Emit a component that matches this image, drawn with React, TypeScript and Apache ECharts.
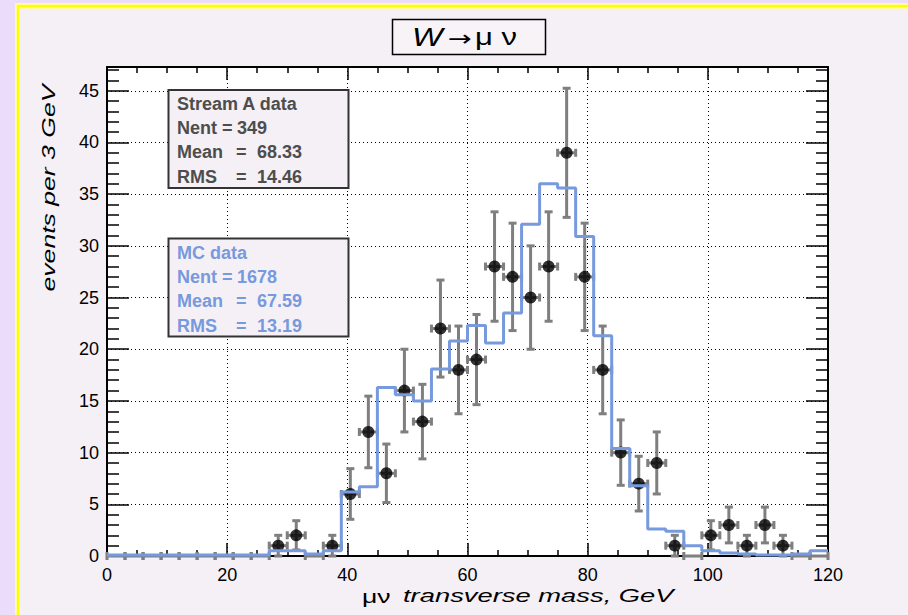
import React, { useEffect, useRef } from 'react';
import * as echarts from 'echarts';

// ---- data (3 GeV bins from 0 to 120) ----
const binWidth = 3;
const xRange = [0, 120];
const yRange = [0, 47.3];
const dataCounts = [
  0, 0, 0, 0, 0, 0, 0, 0, 0, 1,
  2, 0, 1, 6, 12, 8, 16, 13, 22, 18,
  19, 28, 27, 25, 28, 39, 27, 18, 10, 7,
  9, 1, 0, 2, 3, 1, 3, 1, 0, 0,
];
const mcValues = [
  0.1, 0.1, 0.1, 0.1, 0.1, 0.1, 0.1, 0.1, 0.1, 0.5,
  0.5, 0.2, 0.5, 6.2, 6.7, 16.3, 15.6, 15.0, 18.1, 20.8,
  22.3, 20.6, 23.5, 32.1, 36.0, 35.6, 30.9, 21.3, 10.4, 6.8,
  2.6, 2.4, 1.0, 0.5, 0.3, 0.2, 0.1, 0.1, 0.2, 0.5,
];
const dataStats = ['Stream A data', '349', '68.33', '14.46'];
const mcStats = ['MC data', '1678', '67.59', '13.19'];
const statLabels = ['Nent', 'Mean', 'RMS'];
const titleParts = ['W', '\u2192', '\u03bc \u03bd'];
const xTitleParts = ['\u03bc\u03bd', 'transverse mass, GeV'];
const yTitle = 'events per 3 GeV';

const FONT = "'Liberation Sans', Arial, Helvetica, sans-serif";
const DATA_GREY = '#7f7f7f';
const MC_BLUE = '#7799dd';

function statsBox(top: number, values: string[], color: string) {
  const els: any[] = [];
  els.push({
    type: 'rect', z: 100,
    shape: { x: 168.5, y: top, width: 180, height: 98 },
    style: { fill: '#f5f0f5', stroke: '#333', lineWidth: 2 },
  });
  const rows = [14, 38, 62, 87];
  const txt = (x: number, y: number, t: string) => ({
    type: 'text', z: 101, x, y,
    style: { text: t, fill: color, font: `bold 18px ${FONT}`, align: 'left', verticalAlign: 'middle' },
  });
  els.push(txt(177, top + rows[0], values[0]));
  const eqX = [222, 236, 236];
  const valX = [237, 257, 257];
  for (let i = 0; i < 3; i++) {
    els.push(txt(177, top + rows[i + 1], statLabels[i]));
    els.push(txt(eqX[i], top + rows[i + 1], '='));
    els.push(txt(valX[i], top + rows[i + 1], values[i + 1]));
  }
  return els;
}

export default function App() {
  const ref = useRef<HTMLDivElement>(null);
  useEffect(() => {
    document.body.style.margin = '0';
    const chart = echarts.init(ref.current!, null, { renderer: 'svg' });

    const errData = dataCounts.map((n, i) => [i * binWidth + binWidth / 2, n, Math.sqrt(n)]);
    const markerData = dataCounts
      .map((n, i) => [i * binWidth + binWidth / 2, n])
      .filter((d) => d[1] > 0);
    const mcData = mcValues.map((v, i) => [i * binWidth, v]);
    mcData.push([xRange[1], mcValues[mcValues.length - 1]]);

    const tickStyle = { color: '#000', width: 1.5 };
    const axisLine = { show: true, onZero: false, lineStyle: { color: '#000', width: 2 } };
    const dotted = { show: true, lineStyle: { color: '#000', width: 1, type: [1, 3] } };
    const xBase = {
      type: 'value', min: xRange[0], max: xRange[1], interval: 20,
      axisLine,
      axisTick: { show: true, inside: true, length: 13, lineStyle: tickStyle },
      minorTick: { show: true, splitNumber: 4, length: 6, lineStyle: tickStyle },
    };
    const yBase = {
      type: 'value', min: yRange[0], max: yRange[1], interval: 5,
      axisLine,
      axisTick: { show: true, inside: true, length: 22, lineStyle: tickStyle },
      minorTick: { show: true, splitNumber: 5, length: 12, lineStyle: tickStyle },
    };

    const graphicEls: any[] = [
      {
        type: 'rect', z: 100,
        shape: { x: 392.5, y: 19.5, width: 153, height: 35 },
        style: { fill: '#f7f3f7', stroke: '#000', lineWidth: 1.5 },
      },
      {
        type: 'text', z: 101, x: 412, y: 37, scaleX: 1.3,
        style: { text: titleParts[0], fill: '#000', font: `italic 25px ${FONT}`, align: 'left', verticalAlign: 'middle' },
      },
      {
        type: 'text', z: 101, x: 448, y: 38, scaleX: 1.3,
        style: { text: titleParts[1], fill: '#000', font: `22px 'DejaVu Sans', sans-serif`, align: 'left', verticalAlign: 'middle' },
      },
      {
        type: 'text', z: 101, x: 475, y: 37, scaleX: 1.35,
        style: { text: titleParts[2], fill: '#000', font: `23px ${FONT}`, align: 'left', verticalAlign: 'middle' },
      },
      {
        type: 'text', z: 101, x: 48, y: 188, rotation: Math.PI / 2, scaleX: 1.4,
        style: { text: yTitle, fill: '#000', font: `italic 19px ${FONT}`, align: 'center', verticalAlign: 'middle' },
      },
      {
        type: 'text', z: 101, x: 362, y: 596, scaleX: 1.4,
        style: { text: xTitleParts[0], fill: '#000', font: `19px ${FONT}`, align: 'left', verticalAlign: 'middle' },
      },
      {
        type: 'text', z: 101, x: 403, y: 596, scaleX: 1.44,
        style: { text: xTitleParts[1], fill: '#000', font: `italic 19px ${FONT}`, align: 'left', verticalAlign: 'middle' },
      },
      ...statsBox(90, dataStats, '#4d4d4d'),
      ...statsBox(238.5, mcStats, MC_BLUE),
    ];

    chart.setOption({
      animation: false,
      textStyle: { fontFamily: FONT },
      grid: { left: 107, top: 67, right: 80, bottom: 59, show: true, backgroundColor: '#ffffff', borderWidth: 0 },
      xAxis: [
        {
          ...xBase, position: 'bottom',
          axisLabel: { color: '#000', fontSize: 18, margin: 10, fontFamily: FONT },
          splitLine: dotted,
        },
        { ...xBase, position: 'top', axisLabel: { show: false }, splitLine: { show: false } },
      ],
      yAxis: [
        {
          ...yBase, position: 'left',
          axisLabel: {
            color: '#000', fontSize: 18, margin: 8, fontFamily: FONT,
            formatter: (v: number) => (Math.abs(v % 5) < 1e-6 ? String(v) : ''),
          },
          splitLine: dotted,
        },
        { ...yBase, position: 'right', axisLabel: { show: false }, splitLine: { show: false } },
      ],
      series: [
        {
          type: 'custom', name: 'data errors', z: 3,
          xAxisIndex: 0, yAxisIndex: 0,
          data: errData,
          encode: { x: 0, y: 1 },
          renderItem: (params: any, api: any) => {
            const x = api.value(0), y = api.value(1), e = api.value(2);
            const c = api.coord([x, y]);
            const t = api.coord([x, y + e]);
            const b = api.coord([x, y - e]);
            const l = api.coord([x - binWidth / 2, y]);
            const r = api.coord([x + binWidth / 2, y]);
            const cap = 4;
            const st = { stroke: DATA_GREY, lineWidth: 3 };
            const children: any[] = [
              { type: 'line', shape: { x1: l[0], y1: c[1], x2: r[0], y2: c[1] }, style: st },
              { type: 'line', shape: { x1: l[0], y1: c[1] - cap, x2: l[0], y2: c[1] + cap }, style: st },
              { type: 'line', shape: { x1: r[0], y1: c[1] - cap, x2: r[0], y2: c[1] + cap }, style: st },
            ];
            if (e > 0) {
              children.push(
                { type: 'line', shape: { x1: c[0], y1: t[1], x2: c[0], y2: b[1] }, style: st },
                { type: 'line', shape: { x1: c[0] - cap, y1: t[1], x2: c[0] + cap, y2: t[1] }, style: st },
                { type: 'line', shape: { x1: c[0] - cap, y1: b[1], x2: c[0] + cap, y2: b[1] }, style: st },
              );
            }
            return { type: 'group', children };
          },
        },
        {
          type: 'scatter', name: 'data', z: 4,
          data: markerData, symbol: 'circle', symbolSize: 12,
          itemStyle: { color: '#000' },
        },
        {
          type: 'line', name: 'MC', z: 5,
          data: mcData, step: 'end', symbol: 'none', showSymbol: false,
          lineStyle: { color: MC_BLUE, width: 3 },
        },
      ],
      graphic: { elements: graphicEls },
    });
    return () => chart.dispose();
  }, []);

  return (
    <div style={{ position: 'fixed', left: 0, top: 0, width: 908, height: 615, background: '#ecdcfb', overflow: 'hidden' }}>
      <div style={{ position: 'absolute', left: 15, top: 3, width: 1000, height: 700, background: '#ffff90' }} />
      <div style={{ position: 'absolute', left: 16.5, top: 4.5, width: 1000, height: 700, background: '#ffff00' }} />
      <div style={{ position: 'absolute', left: 19, top: 7, width: 1000, height: 700, background: '#ffffa8' }} />
      <div style={{ position: 'absolute', left: 20, top: 8.5, width: 1000, height: 700, background: '#f5f0f5' }} />
      <div ref={ref} style={{ position: 'absolute', left: 0, top: 0, width: 908, height: 615 }} />
    </div>
  );
}
